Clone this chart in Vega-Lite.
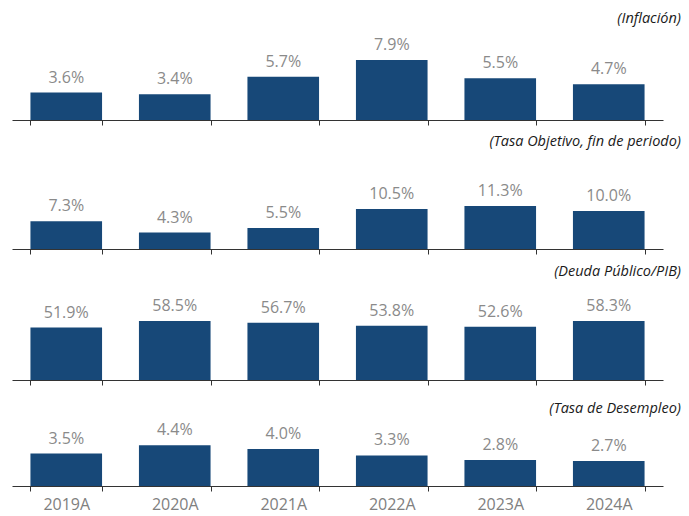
{
  "$schema": "https://vega.github.io/schema/vega-lite/v6.json",
  "padding": {"left": 12, "right": 0, "top": 10, "bottom": 4},
  "background": "white",
  "spacing": 7,
  "config": {
    "view": {"stroke": null},
    "font": "Open Sans",
    "title": {"anchor": "end", "fontStyle": "italic", "fontWeight": "normal", "fontSize": 14.5, "color": "#1a1a1a", "font": "Open Sans", "offset": 3, "dx": 18}
  },
  "datasets": {
    "inf": [
      {"year": "2019A", "v": 3.6, "label": "3.6%"},
      {"year": "2020A", "v": 3.4, "label": "3.4%"},
      {"year": "2021A", "v": 5.7, "label": "5.7%"},
      {"year": "2022A", "v": 7.9, "label": "7.9%"},
      {"year": "2023A", "v": 5.5, "label": "5.5%"},
      {"year": "2024A", "v": 4.7, "label": "4.7%"}
    ],
    "tasa": [
      {"year": "2019A", "v": 7.3, "label": "7.3%"},
      {"year": "2020A", "v": 4.3, "label": "4.3%"},
      {"year": "2021A", "v": 5.5, "label": "5.5%"},
      {"year": "2022A", "v": 10.5, "label": "10.5%"},
      {"year": "2023A", "v": 11.3, "label": "11.3%"},
      {"year": "2024A", "v": 10.0, "label": "10.0%"}
    ],
    "deuda": [
      {"year": "2019A", "v": 51.9, "label": "51.9%"},
      {"year": "2020A", "v": 58.5, "label": "58.5%"},
      {"year": "2021A", "v": 56.7, "label": "56.7%"},
      {"year": "2022A", "v": 53.8, "label": "53.8%"},
      {"year": "2023A", "v": 52.6, "label": "52.6%"},
      {"year": "2024A", "v": 58.3, "label": "58.3%"}
    ],
    "desemp": [
      {"year": "2019A", "v": 3.5, "label": "3.5%"},
      {"year": "2020A", "v": 4.4, "label": "4.4%"},
      {"year": "2021A", "v": 4.0, "label": "4.0%"},
      {"year": "2022A", "v": 3.3, "label": "3.3%"},
      {"year": "2023A", "v": 2.8, "label": "2.8%"},
      {"year": "2024A", "v": 2.7, "label": "2.7%"}
    ]
  },
  "vconcat": [
    {
      "title": "(Inflación)",
      "width": 651, "height": 91,
      "data": {"name": "inf"},
      "encoding": {
        "x": {"field": "year", "type": "ordinal", "scale": {"paddingInner": 0.34, "paddingOuter": 0.17}, "axis": {"title": null, "labels": false, "tickBand": "extent", "domainColor": "#333333", "tickColor": "#333333", "tickSize": 5}},
        "y": {"field": "v", "type": "quantitative", "scale": {"domain": [0, 11.96]}, "axis": null}
      },
      "layer": [
        {"mark": {"type": "bar", "color": "#174878"}},
        {"mark": {"type": "text", "baseline": "alphabetic", "dy": -10, "fontSize": 16, "color": "#8a8a8a"}, "encoding": {"text": {"field": "label"}}}
      ]
    },
    {
      "title": "(Tasa Objetivo, fin de periodo)",
      "width": 651, "height": 97,
      "data": {"name": "tasa"},
      "encoding": {
        "x": {"field": "year", "type": "ordinal", "scale": {"paddingInner": 0.34, "paddingOuter": 0.17}, "axis": {"title": null, "labels": false, "tickBand": "extent", "domainColor": "#333333", "tickColor": "#333333", "tickSize": 5, "minExtent": 7}},
        "y": {"field": "v", "type": "quantitative", "scale": {"domain": [0, 25.46]}, "axis": null}
      },
      "layer": [
        {"mark": {"type": "bar", "color": "#174878"}},
        {"mark": {"type": "text", "baseline": "alphabetic", "dy": -10, "fontSize": 16, "color": "#8a8a8a"}, "encoding": {"text": {"field": "label"}}}
      ]
    },
    {
      "title": "(Deuda Público/PIB)",
      "width": 651, "height": 98,
      "data": {"name": "deuda"},
      "encoding": {
        "x": {"field": "year", "type": "ordinal", "scale": {"paddingInner": 0.34, "paddingOuter": 0.17}, "axis": {"title": null, "labels": false, "tickBand": "extent", "domainColor": "#333333", "tickColor": "#333333", "tickSize": 5, "minExtent": 13}},
        "y": {"field": "v", "type": "quantitative", "scale": {"domain": [0, 97]}, "axis": null}
      },
      "layer": [
        {"mark": {"type": "bar", "color": "#174878"}},
        {"mark": {"type": "text", "baseline": "alphabetic", "dy": -10, "fontSize": 16, "color": "#8a8a8a"}, "encoding": {"text": {"field": "label"}}}
      ]
    },
    {
      "title": "(Tasa de Desempleo)",
      "width": 651, "height": 67,
      "data": {"name": "desemp"},
      "encoding": {
        "x": {"field": "year", "type": "ordinal", "scale": {"paddingInner": 0.34, "paddingOuter": 0.17}, "axis": {"title": null, "labelAngle": 0, "labelFontSize": 16, "labelColor": "#808080", "labelPadding": 5, "tickBand": "extent", "domainColor": "#333333", "tickColor": "#333333", "tickSize": 5}},
        "y": {"field": "v", "type": "quantitative", "scale": {"domain": [0, 7.22]}, "axis": null}
      },
      "layer": [
        {"mark": {"type": "bar", "color": "#174878"}},
        {"mark": {"type": "text", "baseline": "alphabetic", "dy": -10, "fontSize": 16, "color": "#8a8a8a"}, "encoding": {"text": {"field": "label"}}}
      ]
    }
  ]
}
